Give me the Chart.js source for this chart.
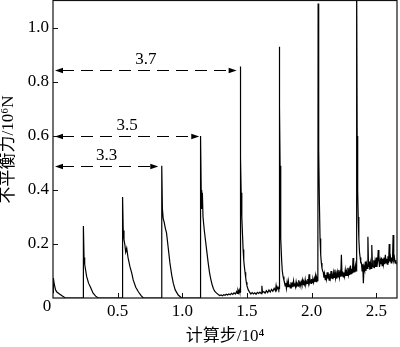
<!DOCTYPE html>
<html><head><meta charset="utf-8">
<script src="https://cdn.jsdelivr.net/npm/chart.js@4.4.0/dist/chart.umd.min.js"></script>
<style>html,body{margin:0;padding:0;background:#fff;}canvas{display:block;}</style>
</head><body>
<canvas id="c" width="400" height="347"></canvas>
<script>
// computation steps (x 10^4)
const steps = [
  0, 0.003, 0.01, 0.02, 0.03, 0.05, 0.07, 0.09, 0.1, 0.232,
  0.234, 0.236, 0.24, 0.245, 0.26, 0.275, 0.29, 0.31, 0.33, 0.35, 0.535,
  0.537, 0.539, 0.543, 0.549, 0.555, 0.562, 0.57, 0.58, 0.595, 0.61, 0.62, 0.64, 0.66, 0.68, 0.698, 0.838,
  0.84, 0.842, 0.846, 0.852, 0.86, 0.868, 0.878, 0.89, 0.904, 0.918, 0.93, 0.945, 0.968, 0.995, 1.138,
  1.14, 1.142, 1.146, 1.15, 1.155, 1.16, 1.17, 1.18, 1.19, 1.2, 1.21, 1.22, 1.23, 1.24, 1.25, 1.265,
  1.28, 1.29, 1.30, 1.31, 1.32, 1.33, 1.34, 1.35, 1.36, 1.37, 1.38, 1.39, 1.40, 1.41, 1.42, 1.425, 1.43, 1.435, 1.44, 1.444,
  1.446, 1.448, 1.45, 1.452, 1.455, 1.46, 1.465, 1.47, 1.475, 1.48, 1.485, 1.49, 1.495, 1.5,
  1.51, 1.52, 1.53, 1.54, 1.55, 1.56, 1.57, 1.58, 1.59, 1.6, 1.61, 1.615, 1.62, 1.63, 1.64, 1.65, 1.66, 1.67, 1.68, 1.69, 1.7, 1.71, 1.72, 1.725, 1.73, 1.74, 1.746,
  1.748, 1.75, 1.753, 1.756, 1.759, 1.763, 1.768, 1.773, 1.779, 1.786,
  1.79, 1.795, 1.8, 1.805, 1.81, 1.815, 1.82, 1.825, 1.83, 1.835,
  1.84, 1.845, 1.85, 1.855, 1.86, 1.865, 1.87, 1.875, 1.88, 1.885,
  1.89, 1.895, 1.9, 1.905, 1.91, 1.915, 1.92, 1.925, 1.93, 1.935,
  1.94, 1.945, 1.95, 1.955, 1.96, 1.965, 1.97, 1.975, 1.98, 1.985,
  1.99, 1.995, 2.0, 2.005, 2.01, 2.015, 2.02, 2.025, 2.03, 2.035,
  2.04, 2.046,
  2.048, 2.05, 2.053, 2.056, 2.06, 2.065, 2.07, 2.075, 2.08, 2.085,
  2.09, 2.095, 2.1, 2.105, 2.11, 2.115, 2.12, 2.125, 2.13, 2.135,
  2.14, 2.145, 2.15, 2.155, 2.16, 2.165, 2.17, 2.175, 2.18, 2.185,
  2.19, 2.195, 2.2, 2.205, 2.21, 2.215, 2.22, 2.225, 2.23, 2.235,
  2.24, 2.245, 2.25, 2.255, 2.26, 2.265, 2.27, 2.275, 2.28, 2.285,
  2.29, 2.295, 2.3, 2.305, 2.31, 2.315, 2.32, 2.325, 2.33, 2.335,
  2.34, 2.345,
  2.347, 2.349, 2.352, 2.356, 2.36, 2.365, 2.37, 2.375, 2.38,
  2.385, 2.39, 2.395, 2.4, 2.405, 2.41, 2.415, 2.42, 2.425, 2.43,
  2.435, 2.44, 2.445, 2.45, 2.455, 2.46, 2.465, 2.47, 2.475, 2.48,
  2.485, 2.49, 2.495, 2.5, 2.505, 2.51, 2.515, 2.52, 2.525, 2.53,
  2.535, 2.54, 2.545, 2.55, 2.555, 2.56, 2.565, 2.57, 2.575, 2.58,
  2.585, 2.59, 2.595, 2.6, 2.605, 2.61, 2.615, 2.62, 2.625, 2.63,
  2.635, 2.64, 2.645, 2.65, 2.655
];
// unbalanced force (x 10^6 N)
const force = [
  0.02, 0.074, 0.05, 0.03, 0.022, 0.015, 0.008, 0.002, 0, 0,
  0, 0.267, 0.15, 0.125, 0.08, 0.055, 0.04, 0.018, 0.007, 0, 0,
  0, 0.374, 0.25, 0.215, 0.2, 0.17, 0.185, 0.15, 0.116, 0.09, 0.067, 0.04, 0.023, 0.01, 0, 0,
  0, 0.49, 0.33, 0.295, 0.28, 0.26, 0.24, 0.19, 0.13, 0.085, 0.055, 0.03, 0.011, 0, 0,
  0, 0.6, 0.4, 0.33, 0.39, 0.3, 0.25, 0.21, 0.17, 0.13, 0.095, 0.07, 0.05, 0.035, 0.025, 0.018,
  0.012, 0.009, 0.011, 0.008, 0.012, 0.01, 0.014, 0.011, 0.015, 0.012, 0.017, 0.013, 0.019, 0.015, 0.024, 0.017, 0.028, 0.02, 0.03, 0.022,
  0.022, 0.857, 0.76, 0.52, 0.39, 0.3, 0.24, 0.18, 0.14, 0.115, 0.095, 0.075, 0.058, 0.045,
  0.03, 0.022, 0.015, 0.02, 0.015, 0.019, 0.014, 0.021, 0.017, 0.022, 0.016, 0.045, 0.02, 0.024, 0.018, 0.027, 0.02, 0.03, 0.022, 0.032, 0.025, 0.036, 0.027, 0.046, 0.03, 0.04, 0.032,
  0.035, 0.931, 0.71, 0.49, 0.34, 0.22, 0.14, 0.1, 0.08, 0.065,
  0.06, 0.045, 0.055, 0.036, 0.058, 0.04, 0.062, 0.042, 0.05, 0.037,
  0.058, 0.043, 0.052, 0.04, 0.063, 0.045, 0.055, 0.042, 0.06, 0.046,
  0.052, 0.044, 0.066, 0.047, 0.056, 0.046, 0.06, 0.05, 0.066, 0.049,
  0.058, 0.05, 0.068, 0.05, 0.06, 0.054, 0.07, 0.055, 0.088, 0.057,
  0.065, 0.054, 0.07, 0.058, 0.068, 0.057, 0.072, 0.06, 0.082, 0.061,
  0.075, 0.064,
  0.066, 1.091, 0.7, 0.55, 0.35, 0.22, 0.16, 0.13, 0.11, 0.1,
  0.095, 0.075, 0.09, 0.068, 0.085, 0.07, 0.095, 0.072, 0.084, 0.066,
  0.09, 0.075, 0.1, 0.072, 0.085, 0.07, 0.094, 0.076, 0.105, 0.074,
  0.09, 0.072, 0.095, 0.078, 0.104, 0.076, 0.092, 0.079, 0.16, 0.082,
  0.098, 0.078, 0.094, 0.08, 0.104, 0.082, 0.098, 0.084, 0.112, 0.087,
  0.103, 0.085, 0.12, 0.09, 0.108, 0.092, 0.148, 0.094, 0.112, 0.096,
  0.12, 0.1,
  0.1, 1.2, 0.6, 0.4, 0.3, 0.22, 0.17, 0.15, 0.13,
  0.13, 0.1, 0.125, 0.055, 0.115, 0.105, 0.135, 0.1, 0.125, 0.11,
  0.227, 0.115, 0.135, 0.105, 0.13, 0.11, 0.196, 0.12, 0.115, 0.14,
  0.11, 0.135, 0.115, 0.15, 0.115, 0.135, 0.178, 0.14, 0.115, 0.14,
  0.125, 0.15, 0.12, 0.145, 0.125, 0.15, 0.125, 0.16, 0.13, 0.145,
  0.125, 0.155, 0.13, 0.2, 0.135, 0.15, 0.13, 0.15, 0.135, 0.233,
  0.14, 0.15, 0.13, 0.14, 0.125
];
const xTickValues = [0.5, 1.0, 1.5, 2.0, 2.5];
const yTickValues = [0.2, 0.4, 0.6, 0.8, 1.0];
const arrowLabels = ['3.3', '3.5', '3.7'];
const arrowLevels = [0.49, 0.601, 0.844];
const arrowEnds = [0.814, 1.131, 1.42];
const xTitle = '计算步/10⁴';
const yTitle = '不平衡力/10⁶N';

if (steps.length !== force.length) throw new Error('length mismatch ' + steps.length + ' vs ' + force.length);

const points = steps.map((s, i) => ({x: s, y: force[i]}));
const FONT = '"Liberation Serif", "Times New Roman", "Noto Sans CJK SC", serif';

const decorPlugin = {
  id: 'decor',
  afterDraw(chart) {
    const {ctx, chartArea: a, scales: {x, y}} = chart;
    ctx.save();
    ctx.strokeStyle = '#111';
    ctx.lineWidth = 1.2;
    ctx.strokeRect(a.left, a.top - 0.5, a.right - a.left, a.bottom - a.top + 0.5);
    // inward ticks
    ctx.lineWidth = 1;
    ctx.beginPath();
    xTickValues.forEach(v => {
      const px = Math.round(x.getPixelForValue(v)) + 0.5;
      ctx.moveTo(px, a.bottom); ctx.lineTo(px, a.bottom - 5);
    });
    yTickValues.forEach(v => {
      const py = Math.round(y.getPixelForValue(v)) + 0.5;
      ctx.moveTo(a.left, py); ctx.lineTo(a.left + 5, py);
    });
    ctx.stroke();
    // corner zero
    ctx.fillStyle = '#000';
    ctx.font = '17px ' + FONT;
    ctx.textAlign = 'center';
    ctx.textBaseline = 'middle';
    ctx.fillText('0', a.left - 6, a.bottom + 9);
    // dashed arrows
    arrowLabels.forEach((lab, i) => {
      const py = Math.round(y.getPixelForValue(arrowLevels[i])) + 0.5;
      const x0 = x.getPixelForValue(0) + 2;
      const x1 = x.getPixelForValue(arrowEnds[i]);
      ctx.strokeStyle = '#000';
      ctx.lineWidth = 1;
      ctx.setLineDash([12, 7]);
      ctx.beginPath();
      ctx.moveTo(x0 + 7, py); ctx.lineTo(x1 - 7, py);
      ctx.stroke();
      ctx.setLineDash([]);
      ctx.beginPath();
      ctx.moveTo(x0, py); ctx.lineTo(x0 + 8, py - 2.8); ctx.lineTo(x0 + 8, py + 2.8); ctx.closePath();
      ctx.moveTo(x1, py); ctx.lineTo(x1 - 8, py - 2.8); ctx.lineTo(x1 - 8, py + 2.8); ctx.closePath();
      ctx.fill();
      ctx.fillText(lab, (x0 + x1) / 2, py - 11);
    });
    ctx.restore();
  }
};

new Chart(document.getElementById('c'), {
  type: 'scatter',
  data: {
    datasets: [{
      data: points,
      showLine: true,
      borderColor: '#000',
      borderWidth: 1.2,
      pointRadius: 0,
      tension: 0,
      fill: false
    }]
  },
  options: {
    responsive: false,
    animation: false,
    devicePixelRatio: 1,
    layout: {padding: {left: 0, top: 1, right: 3, bottom: 0}},
    plugins: {legend: {display: false}, tooltip: {enabled: false}},
    scales: {
      x: {
        type: 'linear', min: 0, max: 2.66,
        afterFit: s => { s.height = 49; s.paddingLeft = 0; s.paddingRight = 0; },
        grid: {display: false, drawTicks: false},
        border: {display: false},
        ticks: {
          stepSize: 0.5, includeBounds: false, padding: 3, maxRotation: 0,
          color: '#000', font: {family: FONT, size: 17},
          callback: v => (Math.abs(v) < 1e-9 ? '' : v.toFixed(1))
        },
        title: {display: true, text: xTitle, color: '#000', font: {family: FONT, size: 17, lineHeight: 1.2}, padding: {top: 0, bottom: 0}}
      },
      y: {
        type: 'linear', min: 0, max: 1.1,
        afterFit: s => { s.width = 53; s.paddingTop = 0; s.paddingBottom = 0; },
        grid: {display: false, drawTicks: false},
        border: {display: false},
        ticks: {
          stepSize: 0.2, includeBounds: false, padding: 4,
          color: '#000', font: {family: FONT, size: 17},
          callback: v => (Math.abs(v) < 1e-9 ? '' : v.toFixed(1))
        },
        title: {display: true, text: yTitle, color: '#000', font: {family: FONT, size: 17, lineHeight: 1}, padding: {top: 0, bottom: 0}}
      }
    }
  },
  plugins: [decorPlugin]
});
</script>
</body></html>
